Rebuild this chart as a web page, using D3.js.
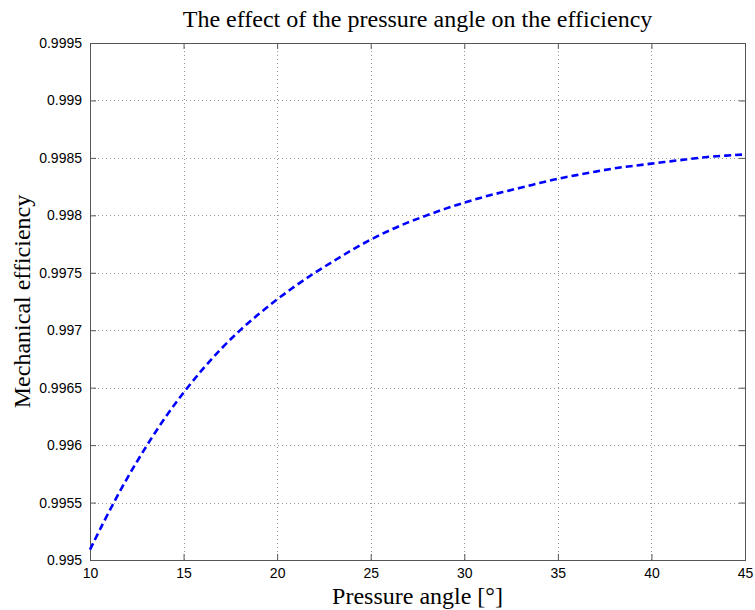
<!DOCTYPE html>
<html>
<head>
<meta charset="utf-8">
<script src="https://cdn.jsdelivr.net/npm/d3@7.8.5/dist/d3.min.js"></script>
<style>
    body { margin: 0; background: #fff; }
    .tick text { font-family: "Liberation Sans", Arial, sans-serif; font-size: 14px; fill: #000; }
    .grid line { stroke: #999; stroke-width: 1; stroke-dasharray: 1,3; shape-rendering: crispEdges; }
    .serif { font-family: "Liberation Serif", "Times New Roman", serif; fill: #000; }
</style>
</head>
<body>
<svg id="chart" width="755" height="610"></svg>
<script>
    // Угол давления (градусы) и КПД
    const angles = [10, 11, 12, 13, 14, 15, 16, 17, 18, 19, 20, 21, 22, 23, 24, 25, 26, 27,
        28, 29, 30, 31, 32, 33, 34, 35, 36, 37, 38, 39, 40, 41, 42, 43, 44, 45];
    const efficiency = [0.99509, 0.99542, 0.99572, 0.99599, 0.99624, 0.99646, 0.99666, 0.99684,
        0.99700, 0.99714, 0.99727, 0.99739, 0.99750, 0.99760, 0.99770, 0.99779, 0.99787,
        0.99794, 0.99800, 0.99806, 0.99811, 0.99816, 0.99820, 0.99824, 0.99828, 0.99832,
        0.99835, 0.99838, 0.99841, 0.99843, 0.99845, 0.99847, 0.99849, 0.99851, 0.99852, 0.99853];
    const xTicks = [10, 15, 20, 25, 30, 35, 40, 45];
    const yTicks = [0.995, 0.9955, 0.996, 0.9965, 0.997, 0.9975, 0.998, 0.9985, 0.999, 0.9995];

    const mLeft = 90, mRight = 745, mTop = 43, mBottom = 560;
    const svg = d3.select('#chart');

    const x = d3.scaleLinear().domain([10, 45]).range([mLeft, mRight]);
    const y = d3.scaleLinear().domain([0.995, 0.9995]).range([mBottom, mTop]);

    // Сетка
    const grid = svg.append('g').attr('class', 'grid');
    grid.selectAll('.gx').data(xTicks.slice(1, -1)).enter().append('line')
        .attr('x1', d => Math.round(x(d)) + 0.5).attr('x2', d => Math.round(x(d)) + 0.5)
        .attr('y1', mTop).attr('y2', mBottom);
    grid.selectAll('.gy').data(yTicks.slice(1, -1)).enter().append('line')
        .attr('y1', d => Math.round(y(d)) + 0.5).attr('y2', d => Math.round(y(d)) + 0.5)
        .attr('x1', mLeft).attr('x2', mRight);

    // Оси (засечки внутрь, как в MATLAB)
    const axisStyle = g => {
        g.select('.domain').remove();
        g.selectAll('.tick line').attr('stroke', '#555');
    };
    svg.append('g').attr('transform', `translate(0,${mBottom})`)
        .call(d3.axisBottom(x).tickValues(xTicks).tickSizeInner(-6).tickSizeOuter(0).tickPadding(8).tickFormat(d3.format('d')))
        .call(axisStyle);
    svg.append('g').attr('transform', `translate(0,${mTop})`)
        .call(d3.axisTop(x).tickValues(xTicks).tickSizeInner(-6).tickSizeOuter(0).tickFormat(''))
        .call(axisStyle);
    svg.append('g').attr('transform', `translate(${mLeft},0)`)
        .call(d3.axisLeft(y).tickValues(yTicks).tickSizeInner(-6).tickSizeOuter(0).tickPadding(8).tickFormat(d => String(+d.toFixed(4))))
        .call(axisStyle);
    svg.append('g').attr('transform', `translate(${mRight},0)`)
        .call(d3.axisRight(y).tickValues(yTicks).tickSizeInner(-6).tickSizeOuter(0).tickFormat(''))
        .call(axisStyle);

    svg.append('rect')
        .attr('x', mLeft + 0.5).attr('y', mTop + 0.5)
        .attr('width', mRight - mLeft).attr('height', mBottom - mTop)
        .attr('fill', 'none').attr('stroke', '#555').attr('stroke-width', 1);

    // Кривая
    const line = d3.line()
        .x((d, i) => x(angles[i]))
        .y(d => y(d))
        .curve(d3.curveBasis);
    svg.append('path')
        .datum(efficiency)
        .attr('d', line)
        .attr('fill', 'none')
        .attr('stroke', '#0000ff')
        .attr('stroke-width', 2.6)
        .attr('stroke-dasharray', '7,4');

    // Подписи
    svg.append('text').attr('class', 'serif')
        .attr('x', (mLeft + mRight) / 2).attr('y', 27)
        .attr('text-anchor', 'middle').style('font-size', '24px')
        .text('The effect of the pressure angle on the efficiency');
    svg.append('text').attr('class', 'serif')
        .attr('x', (mLeft + mRight) / 2).attr('y', 604)
        .attr('text-anchor', 'middle').style('font-size', '24px')
        .text('Pressure angle [°]');
    svg.append('text').attr('class', 'serif')
        .attr('transform', `translate(30,${(mTop + mBottom) / 2}) rotate(-90)`)
        .attr('text-anchor', 'middle').style('font-size', '24px')
        .text('Mechanical efficiency');
</script>
</body>
</html>
